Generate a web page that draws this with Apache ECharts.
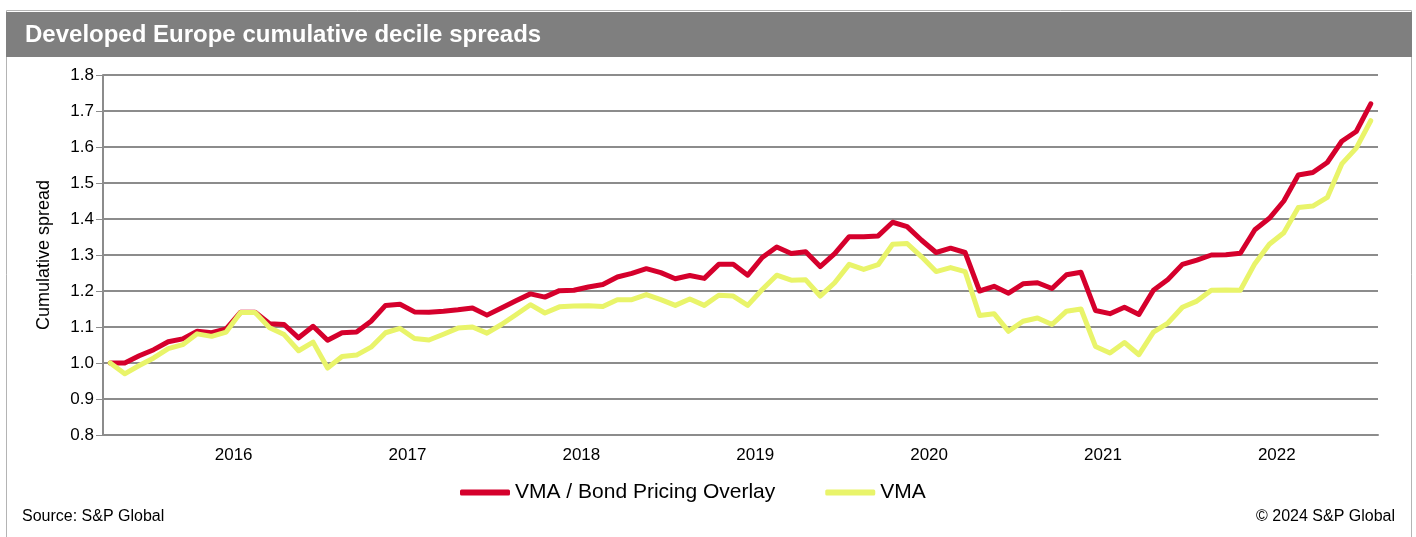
<!DOCTYPE html>
<html lang="en">
<head>
    <meta charset="UTF-8">
    <title>Developed Europe cumulative decile spreads</title>
    <style>
        body {
            margin: 0;
            padding: 0;
            background: #ffffff;
        }

        #chart {
            width: 1416px;
            height: 537px;
        }
    </style>
    <script src="https://cdn.jsdelivr.net/npm/echarts@6/dist/echarts.min.js"></script>
</head>
<body>
    <div id="chart"></div>

    <script>
        // monthly observations, Apr 2015 .. Jul 2022
        const months = [
            '2015-04', '2015-05', '2015-06', '2015-07', '2015-08', '2015-09', '2015-10', '2015-11', '2015-12',
            '2016-01', '2016-02', '2016-03', '2016-04', '2016-05', '2016-06', '2016-07', '2016-08', '2016-09', '2016-10', '2016-11', '2016-12',
            '2017-01', '2017-02', '2017-03', '2017-04', '2017-05', '2017-06', '2017-07', '2017-08', '2017-09', '2017-10', '2017-11', '2017-12',
            '2018-01', '2018-02', '2018-03', '2018-04', '2018-05', '2018-06', '2018-07', '2018-08', '2018-09', '2018-10', '2018-11', '2018-12',
            '2019-01', '2019-02', '2019-03', '2019-04', '2019-05', '2019-06', '2019-07', '2019-08', '2019-09', '2019-10', '2019-11', '2019-12',
            '2020-01', '2020-02', '2020-03', '2020-04', '2020-05', '2020-06', '2020-07', '2020-08', '2020-09', '2020-10', '2020-11', '2020-12',
            '2021-01', '2021-02', '2021-03', '2021-04', '2021-05', '2021-06', '2021-07', '2021-08', '2021-09', '2021-10', '2021-11', '2021-12',
            '2022-01', '2022-02', '2022-03', '2022-04', '2022-05', '2022-06', '2022-07'
        ];

        const bondOverlay = [
            1.000, 1.000, 1.020, 1.037, 1.059, 1.067, 1.088, 1.084, 1.095,
            1.141, 1.141, 1.109, 1.107, 1.070, 1.102, 1.063, 1.084, 1.086, 1.116, 1.160, 1.163,
            1.142, 1.141, 1.144, 1.148, 1.153, 1.133, 1.153, 1.173, 1.192, 1.183, 1.201, 1.202,
            1.211, 1.218, 1.239, 1.249, 1.262, 1.251, 1.234, 1.243, 1.235, 1.274, 1.274, 1.244,
            1.293, 1.322, 1.304, 1.309, 1.268, 1.304, 1.351, 1.351, 1.353, 1.391, 1.379, 1.341,
            1.307, 1.319, 1.307, 1.200, 1.213, 1.194, 1.220, 1.223, 1.207, 1.245, 1.252, 1.146,
            1.137, 1.155, 1.135, 1.202, 1.232, 1.274, 1.286, 1.300, 1.301, 1.305, 1.370, 1.402,
            1.450, 1.522, 1.529, 1.557, 1.616, 1.643, 1.720
        ];

        const vma = [
            1.000, 0.970, 0.993, 1.014, 1.040, 1.051, 1.081, 1.074, 1.086,
            1.140, 1.140, 1.098, 1.079, 1.034, 1.058, 0.986, 1.018, 1.022, 1.044, 1.084, 1.096,
            1.068, 1.064, 1.080, 1.097, 1.100, 1.083, 1.107, 1.134, 1.162, 1.139, 1.156, 1.158,
            1.159, 1.157, 1.176, 1.176, 1.190, 1.176, 1.160, 1.178, 1.160, 1.188, 1.186, 1.160,
            1.204, 1.244, 1.230, 1.231, 1.186, 1.223, 1.274, 1.260, 1.273, 1.330, 1.332, 1.295,
            1.254, 1.265, 1.254, 1.132, 1.137, 1.088, 1.116, 1.125, 1.107, 1.144, 1.150, 1.046,
            1.028, 1.057, 1.023, 1.086, 1.111, 1.155, 1.172, 1.202, 1.203, 1.202, 1.276, 1.330,
            1.362, 1.432, 1.436, 1.460, 1.553, 1.597, 1.673
        ];

        const seriesNames = ['VMA / Bond Pricing Overlay', 'VMA'];
        const seriesColors = ['#d5002c', '#e9f46a'];

        const fontFamily = "'Liberation Sans', Arial, sans-serif";
        const gridColor = '#8c8c8c';

        var chart = echarts.init(document.getElementById('chart'));

        var option = {
            animation: false,
            textStyle: {
                fontFamily: fontFamily
            },
            graphic: [
                {
                    type: 'rect',
                    shape: { x: 6.5, y: 10.5, width: 1405, height: 540 },
                    style: { fill: 'none', stroke: '#b4b4b4', lineWidth: 1 }
                },
                {
                    type: 'rect',
                    shape: { x: 6, y: 12, width: 1406, height: 45 },
                    style: { fill: '#7f7f7f' }
                },
                {
                    type: 'text',
                    left: 25,
                    top: 23,
                    style: {
                        text: 'Developed Europe cumulative decile spreads',
                        fill: '#ffffff',
                        font: "bold 24px 'Liberation Sans', Arial, sans-serif"
                    }
                },
                {
                    type: 'text',
                    left: 22,
                    top: 509,
                    style: {
                        text: 'Source: S&P Global',
                        fill: '#000000',
                        font: "16px 'Liberation Sans', Arial, sans-serif"
                    }
                },
                {
                    type: 'text',
                    right: 21,
                    top: 509,
                    style: {
                        text: '\u00a9 2024 S&P Global',
                        fill: '#000000',
                        font: "16px 'Liberation Sans', Arial, sans-serif"
                    }
                }
            ],
            legend: {
                left: 455,
                top: 477,
                icon: 'roundRect',
                itemWidth: 50,
                itemHeight: 6,
                itemGap: 50,
                textStyle: {
                    fontSize: 21,
                    color: '#000000',
                    fontFamily: fontFamily
                },
                data: seriesNames
            },
            grid: {
                left: 103,
                right: 38,
                top: 75,
                bottom: 102
            },
            xAxis: {
                type: 'category',
                data: months,
                boundaryGap: true,
                axisLine: {
                    lineStyle: { color: gridColor, width: 2 }
                },
                axisTick: {
                    interval: 0,
                    length: 4,
                    lineStyle: { color: gridColor, width: 1 }
                },
                axisLabel: {
                    interval: (index, value) => value.endsWith('-01'),
                    formatter: (value) => value.slice(0, 4),
                    color: '#000000',
                    fontSize: 17,
                    margin: 12,
                    padding: [0, 14, 0, 0]
                },
                splitLine: { show: false }
            },
            yAxis: {
                type: 'value',
                min: 0.8,
                max: 1.8,
                interval: 0.1,
                name: 'Cumulative spread',
                nameLocation: 'middle',
                nameRotate: 90,
                nameGap: 50,
                nameTextStyle: {
                    fontSize: 18,
                    color: '#000000'
                },
                axisLine: {
                    show: true,
                    lineStyle: { color: gridColor, width: 2 }
                },
                axisTick: {
                    show: true,
                    length: 7,
                    lineStyle: { color: gridColor, width: 1 }
                },
                axisLabel: {
                    formatter: (v) => v.toFixed(1),
                    color: '#000000',
                    fontSize: 17,
                    margin: 9
                },
                splitLine: {
                    lineStyle: { color: gridColor, width: 2 }
                }
            },
            series: [
                {
                    name: seriesNames[0],
                    type: 'line',
                    data: bondOverlay,
                    symbol: 'none',
                    color: seriesColors[0],
                    lineStyle: { width: 5, color: seriesColors[0], cap: 'round', join: 'round' }
                },
                {
                    name: seriesNames[1],
                    type: 'line',
                    data: vma,
                    symbol: 'none',
                    color: seriesColors[1],
                    lineStyle: { width: 5, color: seriesColors[1], cap: 'round', join: 'round' }
                }
            ]
        };

        chart.setOption(option);
    </script>
</body>
</html>
